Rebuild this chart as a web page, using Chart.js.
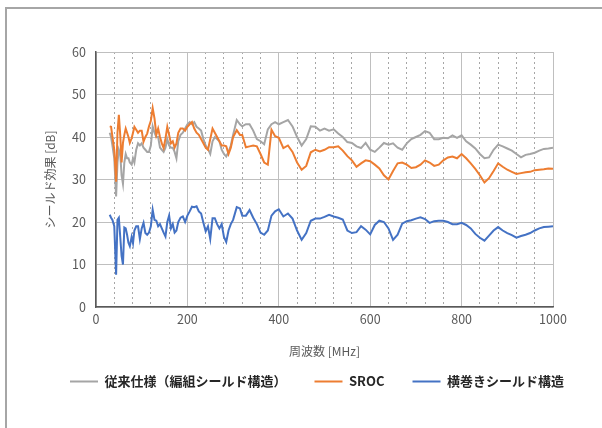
<!DOCTYPE html>
<html lang="ja">
<head>
<meta charset="utf-8">
<script src="https://cdn.jsdelivr.net/npm/chart.js@4"></script>
<style>
  html, body { margin: 0; padding: 0; background: #fff; }
  #wrap { position: relative; width: 602px; height: 428px; overflow: hidden; }
  #frame { position: absolute; left: 5px; top: 7px; width: 700px; height: 600px;
           border-top: 2px solid #a6a6a6; border-left: 2px solid #a6a6a6; }
  canvas { position: absolute; left: 0; top: 0; }
</style>
</head>
<body>
<div id="wrap">
  <div id="frame"></div>
  <canvas id="grafico" width="602" height="428"></canvas>
</div>
<script>
// 周波数 [MHz]
const freqMHz = [
  30, 33, 36, 40, 44, 47, 50, 53, 56, 59,
  62, 65, 68, 71, 74, 78, 81, 84, 88, 92,
  96, 100,
  104, 108, 112, 116, 120, 124, 128, 132, 136, 140,
  144, 148, 152, 156, 160, 164, 168, 172, 176, 180,
  185, 190, 195, 200,
  205, 210, 215, 220, 225, 230, 235, 240, 245, 250,
  255, 260, 265, 270, 275, 280, 285, 290, 295, 300,
  308, 315, 320, 328, 336, 344, 352, 360, 368, 376, 384, 392, 400,
  410, 420, 430, 440, 450, 460, 470, 480, 490, 500,
  510, 520, 530, 540, 550, 560, 570, 580, 590, 600,
  610, 620, 630, 640, 650, 660, 670, 680, 690, 700,
  710, 720, 730, 740, 750, 760, 770, 780, 790, 800,
  810, 820, 830, 840, 850, 860, 870, 880, 890, 900,
  910, 920, 930, 940, 950, 960, 970, 980, 990, 1000
];

// シールド効果 [dB]
const juuraiShiyou = [
  41, 40, 38, 35, 26, 34, 37, 36, 31, 29,
  34, 36, 35, 35, 34, 33.5, 35, 34, 37, 38.5,
  38, 38.5,
  37.5, 37, 36.5, 36.5, 38, 42.5, 41, 40, 40, 37.5,
  37, 36.5, 37.5, 39.5, 38, 37.5, 37.5, 36.5, 35, 39,
  40.5, 41, 42, 43,
  43.5, 43, 43.5, 42.4, 42, 41.5, 39.5, 38, 37.2, 36,
  39, 40, 39.5, 39, 37, 36, 35.4, 36.5, 38, 40.5,
  44, 43, 42.5, 43, 43, 41.5, 39.5, 39, 38.3, 41.8, 43, 43.5, 43,
  43.5, 44, 42.5, 40, 38, 39.5, 42.5, 42.4, 41.5, 42,
  41.5, 41.8, 40.8, 40, 38.8, 38.6, 37.8, 37.4, 38.6, 37,
  36.5, 37.5, 38.6, 38.2, 38.5, 37.5, 37, 38.5, 39.5, 40,
  40.5, 41.4, 41, 39.5, 39.5, 39.8, 39.7, 40.4, 39.8, 40.4,
  39, 38.2, 37.3, 36, 35, 35.2, 37, 38.2, 37.8, 37.3,
  36.8, 36, 35.2, 35.8, 36, 36.3, 36.8, 37.2, 37.3, 37.5
];

const sroc = [
  42.5, 42.4, 40, 37, 29.5, 41, 45.2, 40.5, 34, 38.6,
  40.5, 42, 41, 40, 38.6, 39.7, 41, 42.4, 41.7, 41,
  41.5, 41.5,
  38.9, 40, 40.8, 42.5, 43.8, 46.8, 44.4, 40.5, 42, 40,
  38.5, 37.4, 39.6, 42.4, 40.5, 38.5, 39, 37.5, 38.5, 41,
  42, 42, 41.5, 42.4,
  43, 43.5, 42, 41, 40.5, 39.5, 38.5, 37.5, 37, 39.5,
  42, 41, 40, 39, 38, 38, 37.8, 36, 37.5, 40,
  41.6, 40.5, 40.5, 37.6, 37.8, 38, 37.8, 36, 34, 33.5, 41.7, 40.2, 39.8,
  37.4, 38, 36.5, 34, 32.3, 33.2, 36.4, 37, 36.6, 37,
  37.6, 37.6, 37.8, 36.8, 35.5, 34.5, 33, 33.8, 34.5, 34.3,
  33.5, 32.6, 31, 30, 32, 33.8, 34, 33.5, 32.7, 32.9,
  33.5, 34.5, 34, 33.2, 33.5, 34.5, 35.2, 35.4, 35, 36,
  35, 33.8, 32.5, 31, 29.3, 30.3, 32, 33.8, 33, 32.3,
  31.8, 31.3, 31.5, 31.7, 31.8, 32.2, 32.3, 32.4, 32.6, 32.5
];

const yokomaki = [
  21.7, 21, 20.5, 19, 7.6, 20.5, 21, 16.6, 12, 10,
  18.7, 18.5, 17, 15.1, 14.3, 16.5, 15, 18, 19, 19,
  16, 18.5,
  19.8, 17.4, 17, 17.5, 19, 22.9, 20.5, 20.3, 19, 19.5,
  18.5, 17.5, 16.6, 20, 21.5, 18.5, 19.5, 17.5, 18, 20,
  21, 21.3, 20, 21.5,
  22.5, 23.6, 23.5, 23.7, 22.5, 22, 19.8, 17.8, 19, 16,
  20.9, 20.9, 19.5, 18.5, 19.5, 16.5, 15.3, 18, 19.5, 20.5,
  23.5, 23.2, 21.5, 21.5, 22.8, 21, 19.5, 17.5, 17, 18, 21.5, 22.5, 23,
  21.3, 22, 20.8, 18, 15.8, 17.4, 20.3, 20.8, 20.8, 21.2,
  21.7, 21.3, 21, 20.6, 18, 17.4, 17.6, 19, 18.2, 17.1,
  19.3, 20.3, 20, 18.5, 15.8, 17, 19.6, 20.2, 20.4, 20.8,
  21.1, 20.7, 19.8, 20.2, 20.3, 20.3, 20, 19.5, 19.5, 19.8,
  19.3, 18.5, 17.2, 16.3, 15.6, 16.8, 18, 18.8, 18, 17.4,
  16.9, 16.3, 16.7, 17, 17.4, 18, 18.5, 18.8, 18.9, 19
];

const nomes = ['従来仕様（編組シールド構造）', 'SROC', '横巻きシールド構造'];
const cores = ['#a5a5a5', '#ed7d31', '#4472c4'];

const pontos = (valores) => freqMHz.map((f, i) => ({ x: f, y: valores[i] }));

Chart.defaults.font.family = '"Noto Sans CJK JP", "Noto Sans", sans-serif';
Chart.defaults.color = '#595959';

const ctx = document.getElementById('grafico').getContext('2d');

new Chart(ctx, {
  type: 'line',
  data: {
    datasets: [juuraiShiyou, sroc, yokomaki].map((valores, i) => ({
      label: nomes[i],
      data: pontos(valores),
      borderColor: cores[i],
      backgroundColor: cores[i],
      borderWidth: 2,
      pointRadius: 0,
      tension: 0,
      order: 3 - i
    }))
  },
  options: {
    responsive: false,
    animation: false,
    layout: { padding: { left: 32, right: 0, top: 52, bottom: 30 } },
    plugins: {
      legend: {
        position: 'bottom',
        labels: {
          usePointStyle: true,
          pointStyle: 'line',
          pointStyleWidth: 28,
          padding: 28,
          color: '#262626',
          font: { size: 13, weight: 'bold' },
          sort: (a, b) => a.datasetIndex - b.datasetIndex
        }
      },
      tooltip: { enabled: false }
    },
    scales: {
      x: {
        type: 'linear',
        min: 0,
        max: 1000,
        ticks: { stepSize: 200, padding: 5, font: { size: 12.5 }, callback: (v) => String(v) },
        grid: { color: '#bfbfbf', drawTicks: false },
        border: { color: '#595959', width: 1.5 },
        title: { display: true, text: '周波数 [MHz]', font: { size: 12 }, padding: { top: 0, bottom: -12 } },
        afterFit: (s) => { s.height = 40; }
      },
      xMenor: {
        type: 'linear',
        position: 'bottom',
        min: 0,
        max: 1000,
        ticks: { display: false, stepSize: 40 },
        grid: {
          color: (c) => (c.tick && c.tick.value % 200 === 0) ? 'rgba(0,0,0,0)' : '#a6a6a6',
          drawTicks: false
        },
        border: { display: false, dash: [2, 3] },
        afterFit: (s) => { s.height = 0; }
      },
      y: {
        min: 0,
        max: 60,
        ticks: { stepSize: 10, padding: 10, font: { size: 12.5 } },
        grid: { color: '#bfbfbf', drawTicks: false },
        border: { color: '#595959', width: 1.5 },
        title: { display: true, text: 'シールド効果 [dB]', font: { size: 12 }, padding: { top: 11, bottom: 0 } },
        afterFit: (s) => { s.width = 64; }
      },
      // 右側の余白用（何も描かない）
      yDireita: {
        position: 'right',
        min: 0,
        max: 60,
        ticks: { display: false },
        grid: { display: false },
        border: { display: false },
        afterFit: (s) => { s.width = 49; }
      }
    }
  }
});
</script>
</body>
</html>
